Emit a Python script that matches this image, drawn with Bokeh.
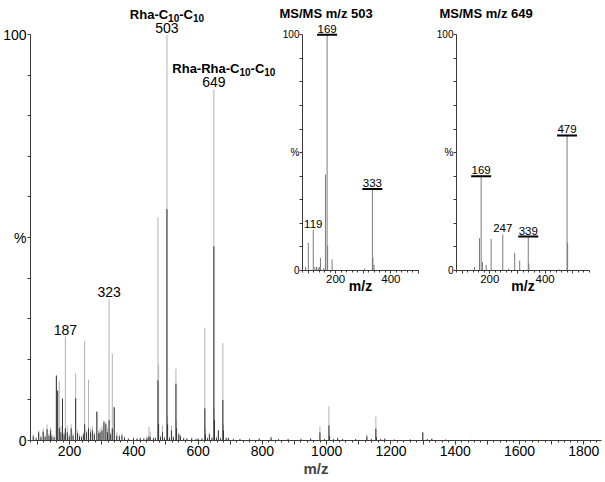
from bokeh.plotting import figure
from bokeh.models import ColumnDataSource, FixedTicker, LabelSet, Label, Range1d, GridBox, Column
from bokeh.embed import file_html
from bokeh.resources import INLINE
from bokeh.core.properties import value

FONT = "Liberation Sans"

# ---------------- main ESI-MS spectrum ----------------
main_mz = [87, 96, 104, 111, 118, 124, 130, 136, 141, 145, 152, 159, 163, 168, 173, 178,
           183, 187, 193, 199, 205, 211, 219, 225, 231, 237, 243, 247, 253, 259, 265, 271,
           277, 285, 291, 295, 301, 307, 313, 318, 323, 328, 333, 339, 347, 355, 363, 371,
           383, 399, 410, 420, 431, 441, 447, 451, 461, 467, 475, 477, 483, 489, 495, 503,
           505, 511, 517, 523, 531, 533, 540, 545, 555, 565, 580, 593, 600, 612, 621, 623,
           629, 635, 643, 649, 651, 657, 663, 670, 677, 679, 687, 694, 710, 730, 760, 790,
           827, 850, 880, 920, 950, 979, 993, 1007, 1009, 1021, 1034, 1050, 1090, 1125, 1139,
           1153, 1155, 1168, 1181, 1210, 1260, 1299, 1313, 1327, 1370, 1450]
main_total = [1.6, 0.8, 2.5, 1.2, 3.0, 1.3, 4.0, 1.8, 3.2, 1.6, 1.2, 16.0, 12.3, 14.6, 3.5, 10.3,
              2.0, 25.6, 3.5, 1.5, 4.0, 1.8, 16.6, 2.5, 1.5, 1.2, 2.0, 24.5, 2.5, 15.0, 3.0, 3.5,
              2.0, 7.1, 2.5, 3.0, 3.5, 5.0, 4.5, 3.0, 34.9, 2.0, 21.4, 8.2, 2.0, 1.5, 1.8, 1.0,
              0.6, 0.8, 0.6, 0.8, 0.7, 1.0, 3.4, 2.2, 0.8, 0.9, 55.0, 18.7, 1.2, 3.7, 1.0, 100.0,
              6.0, 1.0, 3.7, 1.2, 17.7, 5.0, 2.0, 1.5, 0.8, 0.6, 0.8, 0.5, 0.6, 0.7, 27.8, 3.0,
              0.8, 2.0, 1.0, 86.5, 8.0, 1.0, 2.5, 0.8, 24.0, 4.0, 0.8, 0.8, 0.5, 0.5, 0.5, 0.6,
              1.0, 0.4, 0.4, 0.5, 0.6, 3.5, 0.5, 8.4, 1.5, 0.4, 0.8, 0.4, 0.4, 1.5, 0.4,
              5.9, 1.0, 0.4, 0.6, 0.3, 0.3, 2.0, 0.4, 0.5, 0.3, 0.2]
main_dark = [1.0, 0.5, 2.0, 0.8, 2.2, 0.9, 2.8, 1.2, 2.5, 1.0, 0.8, 16.0, 12.3, 3.0, 2.0, 10.3,
             1.5, 3.0, 2.0, 1.0, 3.0, 1.2, 10.4, 1.8, 1.0, 0.8, 1.5, 4.0, 2.0, 3.0, 2.0, 2.5,
             1.5, 7.1, 1.8, 2.0, 2.5, 4.5, 4.0, 2.0, 5.0, 1.5, 3.0, 8.2, 1.2, 1.0, 1.2, 0.7,
             0.4, 0.5, 0.4, 0.5, 0.4, 0.6, 1.0, 0.8, 0.5, 0.6, 14.8, 4.0, 0.8, 2.0, 0.6, 57.0,
             4.0, 0.6, 2.5, 0.8, 14.0, 3.0, 1.5, 1.0, 0.5, 0.4, 0.5, 0.3, 0.4, 0.4, 7.9, 1.5,
             0.5, 1.5, 0.6, 47.8, 5.0, 0.6, 2.5, 0.5, 10.0, 2.5, 0.5, 0.6, 0.3, 0.3, 0.3, 0.4,
             0.7, 0.3, 0.3, 0.3, 0.4, 2.0, 0.3, 3.7, 1.0, 0.3, 0.5, 0.3, 0.3, 1.0, 0.3,
             2.9, 0.7, 0.3, 0.4, 0.2, 0.2, 2.0, 0.3, 0.4, 0.2, 0.1]

main_lab_mz = [187, 323, 503, 649]
main_lab_h = [25.6, 34.9, 100.0, 86.5]
main_lab_txt = ["187", "323", "503", "649"]

# compound names: pieces of (text, is_subscript)
comp_mz = [503, 649]
comp_h = [100.0, 86.5]
comp_parts = [
    [("Rha-C", False), ("10", True), ("-C", False), ("10", True)],
    [("Rha-Rha-C", False), ("10", True), ("-C", False), ("10", True)],
]
comp_dx = [0, 10]

main_xticks = [100, 200, 300, 400, 500, 600, 700, 800, 900, 1000, 1100, 1200, 1300, 1400,
               1500, 1600, 1700, 1800]
main_xlabels = ["", "200", "", "400", "", "600", "", "800", "", "1000", "", "1200", "",
                "1400", "", "1600", "", "1800"]
main_xminor = [m for m in range(80, 1860, 20)]
yticks = [0, 10, 20, 30, 40, 50, 60, 70, 80, 90, 100]
ylabels = ["0", "", "", "", "", "%", "", "", "", "", "100"]

# ---------------- MS/MS insets ----------------
inset_titles = ["MS/MS m/z 503", "MS/MS m/z 649"]

ms503_mz = [91, 101, 119, 125, 131, 137, 141, 145, 157, 163, 169, 171, 187, 305, 333, 335, 339]
ms503_h = [1.5, 11.7, 17.3, 1.5, 1.5, 1.2, 1.5, 5.4, 1.0, 40.7, 100.0, 10.6, 4.7, 0.8, 34.6, 5.6, 2.4]
ms503_lab_mz = [169, 333, 119]
ms503_lab_h = [100.0, 34.6, 17.3]
ms503_lab_txt = ["169", "333", "119"]
ms503_lab_ul = [True, True, False]

ms649_mz = [145, 163, 169, 174, 187, 205, 247, 268, 290, 308, 339, 341, 450, 479, 481]
ms649_h = [1.5, 13.7, 40.0, 3.5, 2.4, 13.4, 15.3, 0.8, 7.5, 4.2, 14.4, 3.0, 0.5, 57.3, 11.7]
ms649_lab_mz = [169, 247, 339, 479]
ms649_lab_h = [40.0, 15.3, 14.4, 57.3]
ms649_lab_txt = ["169", "247", "339", "479"]
ms649_lab_ul = [True, False, True, True]

inset_xticks = [100, 200, 300, 400, 500]
inset_xlabels = ["", "200", "", "400", ""]

AXC = "#3a3a3a"
BOLD_W = {"R": 0.722, "h": 0.611, "a": 0.556, "-": 0.333, "C": 0.722, "1": 0.556, "0": 0.556}

# layout (pixels)
MAIN_W, MAIN_H = 605, 482
INSET_H = 306
GRID_COLS = [279, 154, 172]
GRID_ROWS = [306, 176]
# inset titles anchored in the main plot's frame (screen px from frame left / bottom)
TITLE_SX = [249, 409]
TITLE_SY = [427, 427]


def style_common(f):
    f.background_fill_color = None
    f.border_fill_color = None
    f.outline_line_color = None
    f.grid.visible = False


# ---------------- build main figure ----------------
p = figure(width=MAIN_W, height=MAIN_H, x_range=Range1d(78.5, 1855), y_range=Range1d(0, 108.4),
           output_backend="svg", toolbar_location=None,
           min_border_left=29, min_border_right=4, min_border_top=0, min_border_bottom=42)
p.title = None
style_common(p)

src = ColumnDataSource(dict(mz=main_mz, tot=main_total, dark=main_dark))
p.segment(x0="mz", y0=0, x1="mz", y1="tot", source=src, line_color="#b2b2b2", line_width=1)
p.segment(x0="mz", y0=0, x1="mz", y1="dark", source=src, line_color="#333333", line_width=1)

xa = p.xaxis[0]
xa.ticker = FixedTicker(ticks=main_xticks, minor_ticks=main_xminor)
xa.major_label_overrides = dict(zip(main_xticks, main_xlabels))
xa.axis_label = "m/z"
xa.axis_label_text_font = FONT
xa.axis_label_text_font_style = "bold"
xa.axis_label_text_font_size = "15px"
xa.axis_label_standoff = 1
xa.major_label_text_font = FONT
xa.major_label_text_font_size = "14px"
xa.major_label_text_color = "black"
xa.major_label_standoff = 1
xa.major_tick_in = 0
xa.major_tick_out = 4
xa.minor_tick_in = 0
xa.minor_tick_out = 2
xa.axis_line_color = AXC
xa.major_tick_line_color = AXC
xa.minor_tick_line_color = AXC

ya = p.yaxis[0]
ya.bounds = (0, 100)
ya.ticker = FixedTicker(ticks=yticks)
ya.major_label_overrides = dict(zip(yticks, ylabels))
ya.major_label_text_font = FONT
ya.major_label_text_font_size = "14px"
ya.major_label_text_color = "black"
ya.major_label_standoff = 1
ya.major_tick_in = 0
ya.major_tick_out = 3
ya.minor_tick_out = 0
ya.axis_line_color = AXC
ya.major_tick_line_color = AXC

lsrc = ColumnDataSource(dict(mz=main_lab_mz, h=main_lab_h, t=main_lab_txt))
p.add_layout(LabelSet(x="mz", y="h", text="t", source=lsrc, text_align="center",
                      text_baseline="alphabetic", y_offset=2, text_font=value(FONT),
                      text_font_size=value("14px"), text_color="black"))

MAIN_PX, SUB_PX = 13, 10
for mz_, h_, parts, dx_ in zip(comp_mz, comp_h, comp_parts, comp_dx):
    widths = [sum(BOLD_W.get(c, 0.6) for c in t) * (SUB_PX if sub else MAIN_PX) for t, sub in parts]
    x0 = dx_ - sum(widths) / 2.0
    for (t, sub), w in zip(parts, widths):
        p.add_layout(Label(x=mz_, y=h_, text=t, x_offset=x0, y_offset=(17 if sub else 20.5),
                           text_align="left", text_baseline="alphabetic", text_font=FONT,
                           text_font_style="bold", text_font_size=f"{SUB_PX if sub else MAIN_PX}px",
                           text_color="black"))
        x0 += w

for t, sx, sy in zip(inset_titles, TITLE_SX, TITLE_SY):
    p.add_layout(Label(x=sx, y=sy, x_units="screen", y_units="screen", text=t,
                       text_align="left", text_baseline="alphabetic", text_font=FONT,
                       text_font_style="bold", text_font_size="13px", text_color="black"))


# ---------------- inset builder ----------------
def make_inset(mz, h, lmz, lh, ltxt, lul, xr, width, bl, br):
    f = figure(width=width, height=INSET_H, x_range=Range1d(*xr), y_range=Range1d(0, 104.4),
               output_backend="svg", toolbar_location=None,
               min_border_left=bl, min_border_right=br, min_border_top=24, min_border_bottom=36)
    f.title = None
    style_common(f)
    s = ColumnDataSource(dict(mz=mz, h=h))
    f.segment(x0="mz", y0=0, x1="mz", y1="h", source=s, line_color="#7a7a7a", line_width=1)

    ls = ColumnDataSource(dict(mz=lmz, h=lh, t=ltxt))
    f.add_layout(LabelSet(x="mz", y="h", text="t", source=ls, text_align="center",
                          text_baseline="alphabetic", y_offset=2, text_font=value(FONT),
                          text_font_size=value("11.5px"), text_color="black"))
    umz = [m for m, u in zip(lmz, lul) if u]
    uh = [v for v, u in zip(lh, lul) if u]
    us = ColumnDataSource(dict(mz=umz, h=uh))
    f.rect(x="mz", y="h", width=20, height=2, width_units="screen", height_units="screen",
           source=us, fill_color="black", line_color=None)

    ax = f.xaxis[0]
    ax.ticker = FixedTicker(ticks=inset_xticks, minor_ticks=list(range(80, xr[1] + 1, 20)))
    ax.major_label_overrides = dict(zip(inset_xticks, inset_xlabels))
    ax.axis_label = "m/z"
    ax.axis_label_text_font = FONT
    ax.axis_label_text_font_style = "bold"
    ax.axis_label_text_font_size = "14px"
    ax.axis_label_text_color = "black"
    ax.axis_label_standoff = -8
    ax.major_label_text_font = FONT
    ax.major_label_text_font_size = "11.5px"
    ax.major_label_text_color = "black"
    ax.major_label_standoff = 1
    ax.major_tick_in = 0
    ax.major_tick_out = 3
    ax.minor_tick_in = 0
    ax.minor_tick_out = 2
    ax.axis_line_color = AXC
    ax.major_tick_line_color = AXC
    ax.minor_tick_line_color = AXC

    ay = f.yaxis[0]
    ay.bounds = (0, 100)
    ay.ticker = FixedTicker(ticks=yticks)
    ay.major_label_overrides = dict(zip(yticks, ylabels))
    ay.major_label_text_font = FONT
    ay.major_label_text_font_size = "10px"
    ay.major_label_text_color = "black"
    ay.major_label_standoff = 0
    ay.major_tick_in = 0
    ay.major_tick_out = 3
    ay.minor_tick_out = 0
    ay.axis_line_color = AXC
    ay.major_tick_line_color = AXC
    return f


ins1 = make_inset(ms503_mz, ms503_h, ms503_lab_mz, ms503_lab_h, ms503_lab_txt,
                  ms503_lab_ul, (80, 500), GRID_COLS[1], 20, 15)
ins2 = make_inset(ms649_mz, ms649_h, ms649_lab_mz, ms649_lab_h, ms649_lab_txt,
                  ms649_lab_ul, (80, 560), GRID_COLS[2], 23, 16)

# wrap insets so the grid does not align their frames with the main plot's frame
wrap1 = Column(children=[ins1])
wrap2 = Column(children=[ins2])

grid = GridBox(children=[(p, 0, 0, 2, 3), (wrap1, 0, 1), (wrap2, 0, 2)],
               rows=[f"{r}px" for r in GRID_ROWS], cols=[f"{c}px" for c in GRID_COLS])

open("out.html", "w").write(file_html(grid, INLINE))
